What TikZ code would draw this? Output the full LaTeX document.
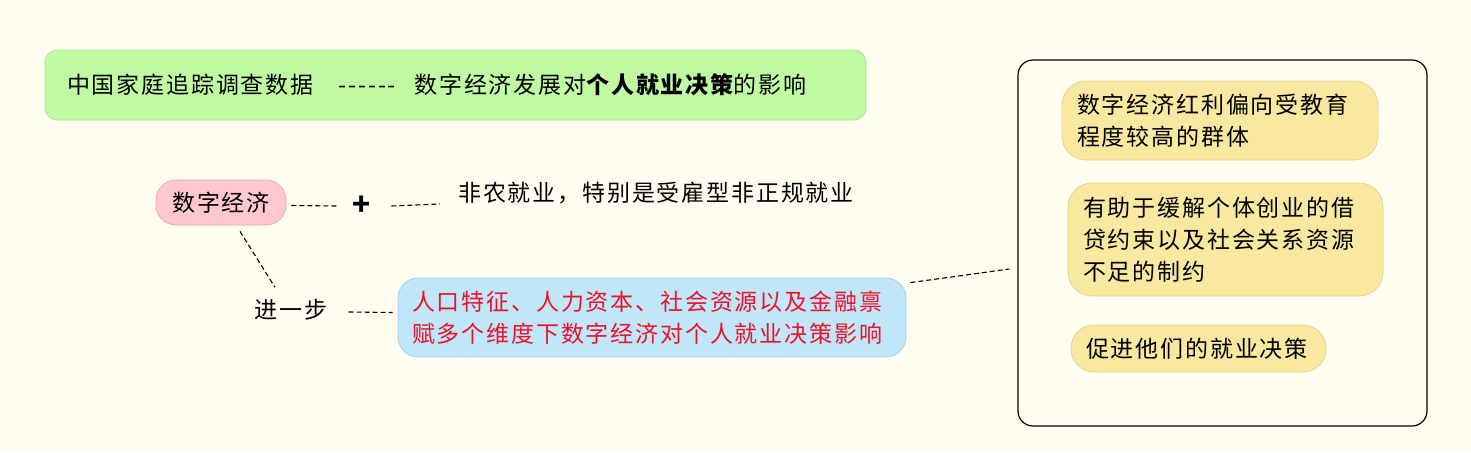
\documentclass[tikz,border=0pt]{standalone}
\usepackage{fontspec}
\newfontfamily\cjk[LetterSpace=8]{Noto Sans CJK SC}
\definecolor{bg}{RGB}{255,253,240}
\definecolor{gfill}{RGB}{192,250,162}
\definecolor{gline}{RGB}{172,230,150}
\definecolor{pfill}{RGB}{255,200,204}
\definecolor{pline}{RGB}{232,172,176}
\definecolor{bfill}{RGB}{192,230,250}
\definecolor{bline}{RGB}{166,208,232}
\definecolor{yfill}{RGB}{248,232,160}
\definecolor{yline}{RGB}{228,212,144}
\definecolor{redtxt}{RGB}{240,16,40}
\tikzset{
  every node/.style={font=\cjk\fontsize{23}{32}\selectfont, text=black},
  pill/.style={draw, line width=0.8pt, rounded corners=20pt, inner ysep=0pt},
  card/.style={draw, line width=0.8pt, rounded corners=14pt, align=left, inner ysep=0pt},
  dl/.style={draw=black, line width=1.1pt, dash pattern=on 5pt off 3pt},
  plain/.style={inner sep=0pt},
}
\begin{document}
\begin{tikzpicture}[x=1pt,y=-1pt]
\fill[bg] (0,0) rectangle (1471,452);
\useasboundingbox (0,0) rectangle (1471,452);
% title
\node[card, fill=gfill, draw=gline, rounded corners=12pt, minimum height=70pt, text width=777pt, inner xsep=22pt] (title) at (455.5,85)
  {中国家庭追踪调查数据\hspace{1.1em}------\hspace{0.8em}数字经济发展对{\bfseries 个人就业决策}的影响};
% digital economy
\node[pill, fill=pfill, draw=pline, minimum width=130pt, minimum height=45pt] (econ) at (221,202.5) {数字经济};
\node[plain, font=\cjk\bfseries\fontsize{30}{32}\selectfont] (plus) at (362,206) {+};
\node[plain, anchor=west] (nonfarm) at (458,193) {非农就业，特别是受雇型非正规就业};
\node[plain] (step) at (291,310) {进一步};
\node[card, fill=bfill, draw=bline, rounded corners=20pt, minimum height=79pt, text width=480pt, inner xsep=14pt, text=redtxt] (blue) at (652,317.5)
  {人口特征、人力资本、社会资源以及金融禀\\赋多个维度下数字经济对个人就业决策影响};
% big box
\node[draw=black, line width=1.2pt, rounded corners=15pt, minimum width=409pt, minimum height=366pt, fill=bg] (big) at (1222.5,243) {};
\node[card, fill=yfill, draw=yline, rounded corners=24pt, minimum height=79pt, text width=286pt, inner xsep=15pt] (y1) at (1220,120.5)
  {数字经济红利偏向受教育\\程度较高的群体};
\node[card, fill=yfill, draw=yline, rounded corners=24pt, minimum height=113pt, text width=285pt, inner xsep=15pt] (y2) at (1225.5,239.5)
  {有助于缓解个体创业的借\\贷约束以及社会关系资源\\不足的制约};
\node[card, fill=yfill, draw=yline, rounded corners=23pt, minimum height=47pt, text width=225pt, inner xsep=15pt] (y3) at (1198.5,348.5)
  {促进他们的就业决策};
% connectors
\draw[dl] ([xshift=5pt,yshift=-3pt]econ.east) -- ([xshift=-16pt]plus.west);
\draw[dl] ([xshift=20pt]plus.east) -- ([xshift=-18pt,yshift=-11pt]nonfarm.west);
\draw[dl] ([xshift=19pt,yshift=-6pt]econ.south) -- ([xshift=-16pt,yshift=12pt]step.north);
\draw[dl] ([xshift=21pt,yshift=-2pt]step.east) -- ([xshift=-5pt,yshift=5pt]blue.west);
\draw[dl] ([xshift=4pt,yshift=-5pt]blue.north east) -- ([xshift=-8pt,yshift=-26pt]big.west);
\end{tikzpicture}
\end{document}
